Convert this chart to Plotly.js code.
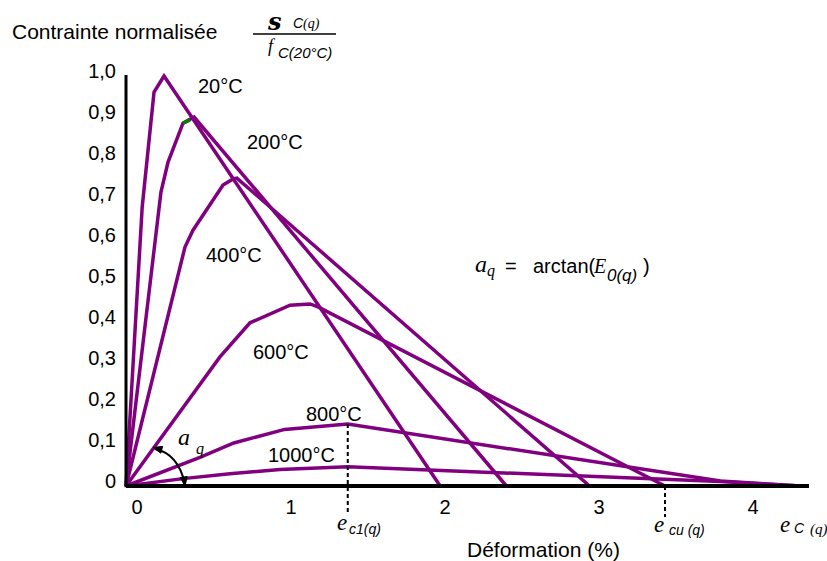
<!DOCTYPE html>
<html><head><meta charset="utf-8">
<script src="https://cdn.plot.ly/plotly-3.0.1.min.js"></script>
<style>html,body{margin:0;padding:0;background:#fff}</style>
</head><body><div id="chart" style="width:827px;height:561px"></div>
<script>
// ---- data (strain in %, normalised stress) ----
const temperatures = ["20°C","200°C","400°C","600°C","800°C","1000°C"];
const strain20   = [0, 0.105, 0.182, 0.247, 2.04];
const stress20   = [0, 0.68, 0.961, 1.0, 0];
const strain200  = [0, 0.227, 0.273, 0.37, 0.442, 2.47];
const stress200  = [0, 0.717, 0.79, 0.885, 0.90, 0];
const strain400  = [0, 0.383, 0.435, 0.565, 0.63, 0.695, 0.72, 3.01];
const stress400  = [0, 0.583, 0.624, 0.698, 0.734, 0.749, 0.751, 0];
const strain600  = [0, 0.61, 0.805, 1.065, 1.195, 1.247, 3.5];
const stress600  = [0, 0.315, 0.398, 0.441, 0.444, 0.437, 0];
const strain800  = [0, 0.48, 0.70, 1.03, 1.44, 3.86, 4.38];
const stress800  = [0, 0.07, 0.105, 0.138, 0.151, 0.012, 0];
const strain1000 = [0, 0.37, 0.675, 1.0, 1.44, 3.86, 4.38];
const stress1000 = [0, 0.018, 0.03, 0.04, 0.047, 0.011, 0];
const greenStrain = [0.37, 0.415];
const greenStress = [0.885, 0.893];
const xTickVals = [0, 1, 2, 3, 4];
const xTickText = ["0", "1", "2", "3", "4"];
const yTickVals = [0, 0.1, 0.2, 0.3, 0.4, 0.5, 0.6, 0.7, 0.8, 0.9, 1.0];
const yTickText = ["0", "0,1", "0,2", "0,3", "0,4", "0,5", "0,6", "0,7", "0,8", "0,9", "1,0"];
const epsC1 = 1.44;      // strain at peak (dashed marker)
const epsCu = 3.5;       // ultimate strain (dashed marker)
const peak800 = 0.151;

// ---- layout geometry ----
const L = 120, R = 815, T = 70, B = 490;
const W = R - L, H = B - T;
const xr = [-0.039, 4.474], yr = [-0.00976, 1.01463];
const PURPLE = '#800080';
const px = p => (p - L) / W;
const py = p => (B - p) / H;
const dx = v => (v - xr[0]) / (xr[1] - xr[0]);
const dy = v => (v - yr[0]) / (yr[1] - yr[0]);

const series = [
  [strain20, stress20], [strain200, stress200], [strain400, stress400],
  [strain600, stress600], [strain800, stress800], [strain1000, stress1000]
];
const traces = series.map((s, i) => ({
  x: s[0], y: s[1], type: 'scatter', mode: 'lines', name: temperatures[i],
  line: {color: PURPLE, width: 3.5}, hoverinfo: 'skip'
}));
traces.push({x: greenStrain, y: greenStress, type: 'scatter', mode: 'lines',
  line: {color: '#008000', width: 3.5}, hoverinfo: 'skip'});

const SANS = 'Liberation Sans, Arial, sans-serif';
const SERIF = 'Liberation Serif, Times New Roman, serif';
const ann = [];
function txt(text, left, cy, family, size) {
  ann.push({xref: 'paper', yref: 'paper', x: px(left), y: py(cy), xanchor: 'left', yanchor: 'middle',
    showarrow: false, text: text, borderpad: 0, font: {family: family, size: size, color: '#000'}});
}
// title
txt('Contrainte normalisée', 11, 31, SANS, 21);
txt('<b><i>s</i></b>', 266, 22, 'DejaVu Serif, serif', 24);
txt('<i>C</i>', 292, 23, SANS, 14);
txt('<i>(q)</i>', 302, 24, SERIF, 14);
txt('<i>f</i>', 267, 46, SERIF, 18);
txt('<i>C(20°C)</i>', 277, 52.5, SANS, 15);
// temperature labels
const tempLabelPos = [[197, 86], [246, 142], [205, 255], [252, 352], [305, 414], [267, 455]];
temperatures.forEach((t, i) => txt(t, tempLabelPos[i][0], tempLabelPos[i][1], SANS, 20));
// alpha near origin
txt('<i>a</i>', 177, 437, SERIF, 24);
txt('<i>q</i>', 195, 449, SERIF, 16);
// formula
txt('<i>a</i>', 474, 264, SERIF, 24);
txt('<i>q</i>', 486, 271, SERIF, 16);
txt('=', 504, 265.5, SANS, 20);
txt('arctan(', 532, 265.5, SANS, 20);
txt('<i>E</i>', 592, 266, SERIF, 20);
txt('<i>0(q)</i>', 606, 275, SANS, 17);
txt(')', 642, 265.5, SANS, 20);
// strain labels
txt('<i>e</i>', 336, 522, SERIF, 23);
txt('<i>c1(q)</i>', 348, 529, SANS, 14);
txt('<i>e</i>', 653, 524, SERIF, 23);
txt('<i>cu (q)</i>', 668, 530, SANS, 14);
txt('<i>e</i>', 779, 524, SERIF, 23);
txt('<i>C</i>', 793, 528, SANS, 14);
txt('<i>(q)</i>', 809, 529, SERIF, 15);
// axis title
txt('Déformation (%)', 466, 549, SANS, 21);

// shapes
const shapes = [];
shapes.push({type: 'line', xref: 'x', yref: 'y', x0: 0, x1: 4.435, y0: 0, y1: 0, line: {color: '#000', width: 4}});
shapes.push({type: 'line', xref: 'x', yref: 'y', x0: 0, x1: 0, y0: -0.003, y1: 1.0024, line: {color: '#000', width: 3}});
// fraction bar
shapes.push({type: 'line', xref: 'paper', yref: 'paper', x0: px(253), x1: px(336), y0: py(34), y1: py(34), line: {color: '#000', width: 1.3}});
// dashed markers
shapes.push({type: 'line', xref: 'paper', yref: 'paper', x0: dx(epsC1), x1: dx(epsC1), y0: dy(peak800), y1: py(514),
  line: {color: '#000', width: 2, dash: '4px,3px'}});
shapes.push({type: 'line', xref: 'paper', yref: 'paper', x0: dx(epsCu), x1: dx(epsCu), y0: dy(0), y1: py(517),
  line: {color: '#000', width: 2, dash: '4px,3px'}});
// alpha arc with arrowheads (pixel geometry)
const S = [155, 449], C = [178, 453.5], E = [185, 484];
shapes.push({type: 'path', xref: 'paper', yref: 'paper',
  path: `M ${px(S[0])},${py(S[1])} Q ${px(C[0])},${py(C[1])} ${px(E[0])},${py(E[1])}`,
  line: {color: '#000', width: 2}});
function head(tip, from) {
  const vx = tip[0] - from[0], vy = tip[1] - from[1];
  const n = Math.hypot(vx, vy), ux = vx / n, uy = vy / n;
  const len = 9, hw = 3.5;
  const bx = tip[0] - ux * len, by = tip[1] - uy * len;
  const p1 = [bx - uy * hw, by + ux * hw], p2 = [bx + uy * hw, by - ux * hw];
  return {type: 'path', xref: 'paper', yref: 'paper',
    path: `M ${px(tip[0])},${py(tip[1])} L ${px(p1[0])},${py(p1[1])} L ${px(p2[0])},${py(p2[1])} Z`,
    fillcolor: '#000', line: {color: '#000', width: 1}};
}
shapes.push(head([153, 447.5], [170, 452]));
shapes.push(head([185, 486], [183, 472]));

const layout = {
  width: 827, height: 561,
  margin: {l: L, r: 827 - R, t: T, b: 561 - B, pad: 0},
  paper_bgcolor: '#fff', plot_bgcolor: '#fff',
  showlegend: false,
  xaxis: {range: xr, showgrid: false, zeroline: false, showline: false, ticks: '',
    tickvals: xTickVals, ticktext: xTickText, ticklabelshift: 11, ticklabelstandoff: 3,
    tickfont: {family: SANS, size: 20, color: '#000'}, fixedrange: true},
  yaxis: {range: yr, showgrid: false, zeroline: false, showline: false, ticks: '',
    tickvals: yTickVals, ticktext: yTickText, ticklabelshift: -5, ticklabelstandoff: 3,
    tickfont: {family: SANS, size: 20, color: '#000'}, fixedrange: true},
  annotations: ann,
  shapes: shapes
};
Plotly.newPlot('chart', traces, layout, {displayModeBar: false, staticPlot: true});
</script></body></html>
